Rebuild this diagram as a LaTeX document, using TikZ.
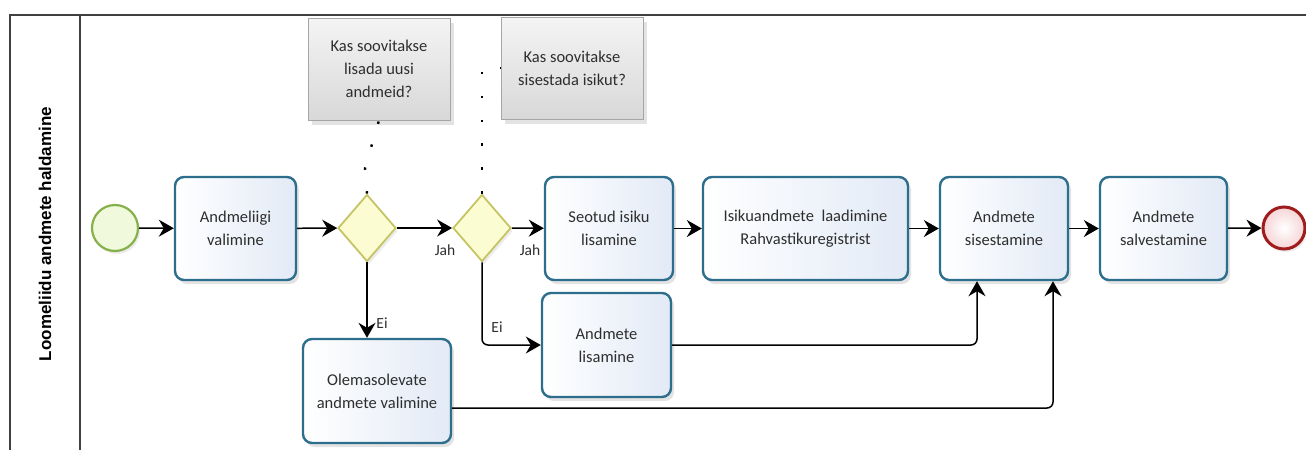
\documentclass[tikz,border=0pt]{standalone}
\usepackage{fontspec}
\setmainfont{Carlito}
\newfontfamily\lanefont{Liberation Sans}
\usetikzlibrary{shapes.geometric,arrows.meta,shadows,calc}
\definecolor{taskborder}{HTML}{2C6E8C}
\definecolor{taskfillA}{HTML}{FFFFFF}
\definecolor{taskfillB}{HTML}{E2EAF6}
\definecolor{gwborder}{HTML}{C4C464}
\definecolor{gwfill}{HTML}{FCFCD2}
\definecolor{startborder}{HTML}{86B04A}
\definecolor{startfill}{HTML}{F0F9DC}
\definecolor{endborder}{HTML}{A01C1C}
\definecolor{endfill}{HTML}{F6D4D6}
\definecolor{annoA}{HTML}{F4F4F4}
\definecolor{annoB}{HTML}{D8D8D8}
\definecolor{txt}{HTML}{2E2E2E}
\begin{document}
\begin{tikzpicture}[x=1pt,y=-1pt,
  font=\fontsize{16.5}{23}\selectfont, text=txt,
  task/.style={draw=taskborder, line width=2.4pt, rounded corners=9pt,
     left color=taskfillA, right color=taskfillB, inner sep=0pt, align=center,
     drop shadow={opacity=0.22, shadow xshift=3pt, shadow yshift=-4pt}},
  gw/.style={diamond, draw=gwborder, line width=1.8pt, fill=gwfill, inner sep=0pt,
     minimum width=58pt, minimum height=67pt,
     drop shadow={opacity=0.15, shadow xshift=2pt, shadow yshift=-3pt}},
  evstart/.style={circle, draw=startborder, line width=2.2pt, fill=startfill, minimum size=46pt, inner sep=0pt,
     drop shadow={opacity=0.15, shadow xshift=2pt, shadow yshift=-3pt}},
  evend/.style={circle, draw=endborder, line width=3pt, inner color=white, outer color=endfill, minimum size=42pt, inner sep=0pt,
     drop shadow={opacity=0.15, shadow xshift=2pt, shadow yshift=-3pt}},
  anno/.style={draw=gray!70, line width=0.8pt, top color=annoA, bottom color=annoB, inner sep=0pt, align=center,
     minimum width=142pt, minimum height=102pt,
     drop shadow={opacity=0.22, shadow xshift=4pt, shadow yshift=-5pt}},
  flow/.style={draw=black, line width=1.5pt, -{Stealth[length=15pt,width=17pt,inset=5pt]}},
  assoc/.style={draw=black, line width=2.4pt, dash pattern=on 2.4pt off 21.5pt},
  lbl/.style={font=\fontsize{15.5}{18}\selectfont, text=txt, inner sep=1pt},
  lane/.style={draw=black!75, line width=1.6pt}
]
\useasboundingbox (0,0) rectangle (1306,450);
% pool / lane
\coordinate (pTL) at (10,15);
\coordinate (pTR) at (1306,15);
\coordinate (pBL) at (10,450);
\coordinate (dT) at (80,15);
\coordinate (dB) at (80,450);
\draw[lane] (pBL) -- (pTL) -- (pTR);
\draw[lane] (dT) -- (dB);
\node[rotate=90, font=\lanefont\bfseries\fontsize{17}{18}\selectfont, text=black] (lanelabel) at (45,234) {Loomeliidu andmete haldamine};

% annotations
\node[anno] (a1) at (379,69) {Kas soovitakse\\lisada uusi\\andmeid?};
\node[anno] (a2) at (572,68) {Kas soovitakse\\sisestada isikut?};

% events
\node[evstart] (s) at (115,228) {};
\node[evend] (e) at (1284,228) {};

% tasks
\node[task, minimum width=121pt, minimum height=103pt] (t1) at (235.5,228.5) {Andmeliigi\\valimine};
\node[task, minimum width=148pt, minimum height=104pt] (ole) at (377,391) {Olemasolevate\\andmete valimine};
\node[task, minimum width=128pt, minimum height=103pt] (seo) at (609,228.5) {Seotud isiku\\lisamine};
\node[task, minimum width=205pt, minimum height=103pt] (isik) at (805.5,228.5) {Isikuandmete\ \ laadimine\\Rahvastikuregistrist};
\node[task, minimum width=129pt, minimum height=104pt] (lis) at (606.5,345) {Andmete\\lisamine};
\node[task, minimum width=128pt, minimum height=103pt] (sis) at (1004,228.5) {Andmete\\sisestamine};
\node[task, minimum width=127pt, minimum height=103pt] (sal) at (1163.5,228.5) {Andmete\\salvestamine};

% gateways
\node[gw] (g1) at (367,228) {};
\node[gw] (g2) at (482,228) {};

% associations
\coordinate (k1) at (365,168);
\draw[assoc] (g1.north) -- (k1) -- (a1.south);
\draw[assoc] (g2.north) |- (a2.west);

% flows
\draw[flow] (s) -- (t1);
\draw[flow] (t1) -- (g1);
\draw[flow] (g1) -- (g2);
\draw[flow] (g2) -- (seo);
\draw[flow] (seo) -- (isik);
\draw[flow] (isik) -- (sis);
\draw[flow] (sis) -- (sal);
\draw[flow] (sal) -- (e);
\draw[flow] (g1.south) -- (g1.south |- ole.north);
\draw[flow, rounded corners=6pt] (g2.south) |- (lis.west);
\coordinate (sisIn1) at ($(sis.south)+(-27,0)$);
\coordinate (sisIn2) at ($(sis.south)+(49,0)$);
\coordinate (oleOut) at ($(ole.east)+(0,17)$);
\draw[flow, rounded corners=6pt] (lis.east) -| (sisIn1);
\draw[flow, rounded corners=6pt] (oleOut) -| (sisIn2);

% labels
\node[lbl] (jah1) at (445,250) {Jah};
\node[lbl] (jah2) at (530,250) {Jah};
\node[lbl] (ei1) at (382,323) {Ei};
\node[lbl] (ei2) at (497,327) {Ei};
\end{tikzpicture}
\end{document}
